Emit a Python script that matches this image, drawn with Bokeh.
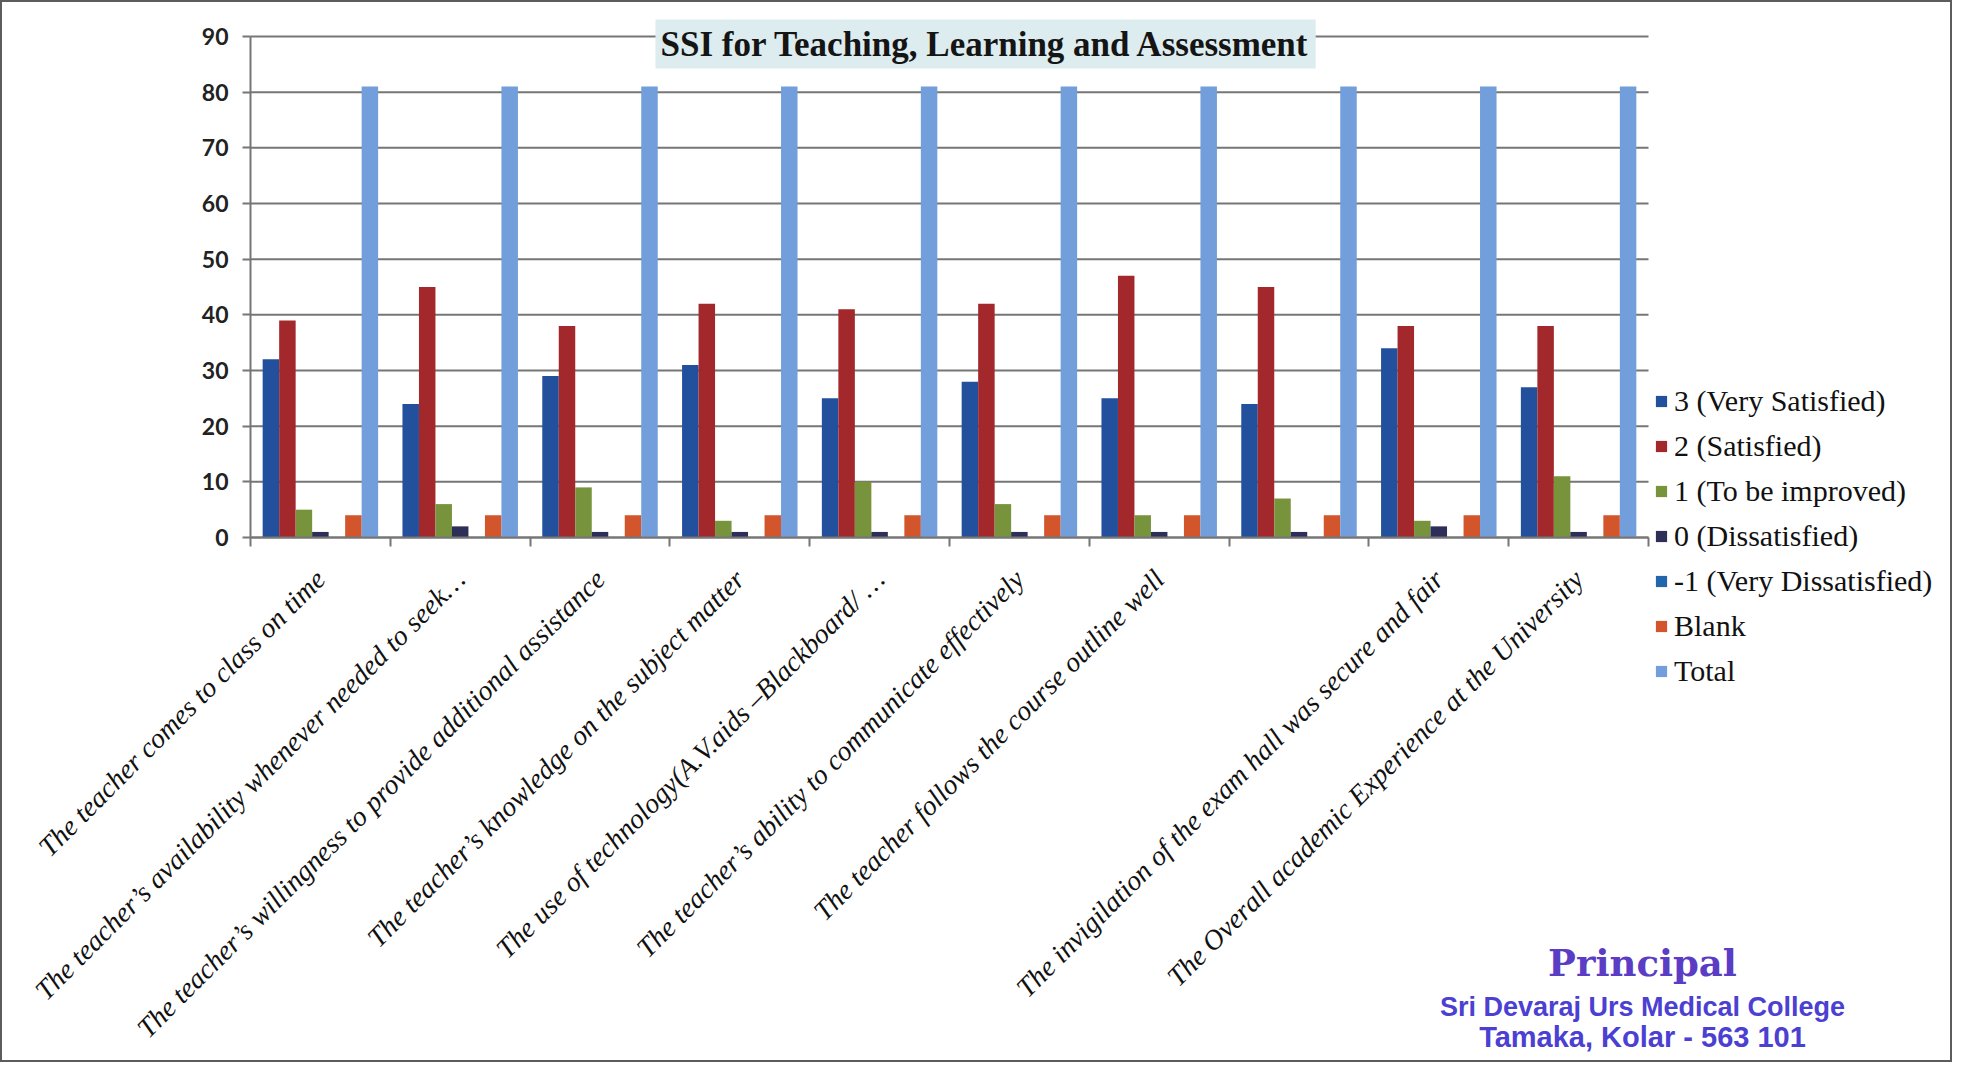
import numpy as np
from bokeh.plotting import figure
from bokeh.models import Range1d, FixedTicker, Legend, LegendItem, Label, ColumnDataSource
from bokeh.embed import file_html
from bokeh.resources import INLINE

# ---------------- data ----------------
# (the 8th group carries no label in the original chart)
categories = [
    "The teacher comes to class on time",
    "The teacher\u2019s availability whenever needed to seek\u2026",
    "The teacher\u2019s willingness to provide additional assistance",
    "The teacher\u2019s knowledge on the subject matter",
    "The use of technology(A.V.aids \u2013Blackboard/ \u2026",
    "The teacher\u2019s ability to communicate effectively",
    "The teacher follows the course outline well",
    "",
    "The invigilation of the exam hall was secure and fair",
    "The Overall academic Experience at the University",
]
series_names = ["3 (Very Satisfied)", "2 (Satisfied)", "1 (To be improved)",
                "0 (Dissatisfied)", "-1 (Very Dissatisfied)", "Blank", "Total"]
very_satisfied    = [32, 24, 29, 31, 25, 28, 25, 24, 34, 27]
satisfied         = [39, 45, 38, 42, 41, 42, 47, 45, 38, 38]
to_be_improved    = [5, 6, 9, 3, 10, 6, 4, 7, 3, 11]
dissatisfied      = [1, 2, 1, 1, 1, 1, 1, 1, 2, 1]
very_dissatisfied = [0, 0, 0, 0, 0, 0, 0, 0, 0, 0]
blank             = [4, 4, 4, 4, 4, 4, 4, 4, 4, 4]
total             = [81, 81, 81, 81, 81, 81, 81, 81, 81, 81]
y_ticks = [0, 10, 20, 30, 40, 50, 60, 70, 80, 90]
title_text = "SSI for Teaching, Learning and Assessment"
stamp_lines = ["Principal", "Sri Devaraj Urs Medical College", "Tamaka, Kolar - 563 101"]

series = [very_satisfied, satisfied, to_be_improved, dissatisfied,
          very_dissatisfied, blank, total]
colors = ["#22509c", "#a3282b", "#77933c", "#2d2f58", "#2366ab", "#d3552b", "#729edb"]

# ---------------- layout (pixels on the canvas) ----------------
W, H = 1952, 1062
N = len(categories)
Y_MAX = y_ticks[-1]
PLOT_L, PLOT_R = 248, 1646      # plot area left/right
PLOT_T, PLOT_B = 34, 535        # plot area top/bottom
px_x = (PLOT_R - PLOT_L) / N
px_y = (PLOT_B - PLOT_T) / Y_MAX

x_range = Range1d(-PLOT_L / px_x, (W - PLOT_L) / px_x)
y_range = Range1d((PLOT_B - H) / px_y, PLOT_B / px_y)

p = figure(width=W, height=H, x_range=x_range, y_range=y_range,
           output_backend="svg", toolbar_location=None)
p.min_border = 0
p.min_border_left = p.min_border_right = p.min_border_top = p.min_border_bottom = 0
p.styles = {"border": "2px solid #5c5c5c"}
p.outline_line_color = None
p.background_fill_color = "white"
p.border_fill_color = "white"
p.xgrid.visible = False
p.ygrid.visible = False

GRID = "#767676"
# horizontal gridlines limited to the plot area
p.segment(x0=[0] * len(y_ticks), x1=[N] * len(y_ticks), y0=y_ticks, y1=y_ticks,
          line_color=GRID, line_width=2, level="underlay")

# y axis fixed at x=0
ya = p.yaxis[0]
ya.fixed_location = 0
ya.bounds = (0, Y_MAX)
ya.ticker = FixedTicker(ticks=y_ticks)
ya.axis_line_color = GRID
ya.axis_line_width = 2
ya.major_tick_out = 8
ya.major_tick_in = 0
ya.major_tick_line_color = GRID
ya.major_tick_line_width = 2
ya.minor_tick_line_color = None
ya.major_label_text_font = "Lato"
ya.major_label_text_font_style = "bold"
ya.major_label_text_font_size = "23px"
ya.major_label_text_color = "#222222"
ya.major_label_standoff = 14

# x axis fixed at y=0
idx = np.arange(N)
centers = idx + 0.5
xa = p.xaxis[0]
xa.fixed_location = 0
xa.bounds = (0, N)
xa.ticker = FixedTicker(ticks=list(centers), minor_ticks=list(np.arange(N + 1)))
overrides = {}
for c, lab in zip(centers, categories):
    overrides[float(c)] = lab
    overrides["%.1f" % c] = lab
xa.major_label_overrides = overrides
xa.major_label_orientation = np.pi / 4
xa.major_label_text_font = "Liberation Serif"
xa.major_label_text_font_style = "italic"
xa.major_label_text_font_size = "28px"
xa.major_label_text_color = "#111111"
xa.major_label_standoff = 28
xa.axis_line_color = GRID
xa.axis_line_width = 2
xa.major_tick_out = 0
xa.major_tick_in = 0
xa.minor_tick_out = 9
xa.minor_tick_in = 0
xa.minor_tick_line_color = GRID
xa.minor_tick_line_width = 2

BAR_W = 0.118
renderers = []
for j, (vals, col) in enumerate(zip(series, colors)):
    src = ColumnDataSource(dict(x=centers + (j - 3) * BAR_W, top=vals))
    r = p.vbar(x="x", top="top", bottom=0, width=BAR_W, source=src,
               fill_color=col, line_color=None)
    renderers.append(r)

legend = Legend(items=[LegendItem(label=n, renderers=[r]) for n, r in zip(series_names, renderers)],
                location=(1652, H - 686), glyph_width=14, glyph_height=14, label_height=30,
                spacing=11, padding=0, margin=0, border_line_color=None,
                background_fill_alpha=0, label_standoff=6,
                label_text_font="Liberation Serif", label_text_font_size="30px",
                label_text_color="#111111")
p.add_layout(legend)

title = Label(x=5.258, y=88.65, text=title_text,
              text_font="Liberation Serif", text_font_style="bold", text_font_size="35px",
              text_color="#151515", text_align="center", text_baseline="middle",
              background_fill_color="#dcecef", padding=5)
p.add_layout(title)

stamp_style = [(-76.5, "DejaVu Serif", "37px", "#5b3cc4"),
               (-84.3, "Liberation Sans", "27px", "#4b40d2"),
               (-89.8, "Liberation Sans", "29px", "#4b40d2")]
for txt, (yy, font, size, colr) in zip(stamp_lines, stamp_style):
    p.add_layout(Label(x=9.957, y=yy, text=txt, text_font=font, text_font_style="bold",
                       text_font_size=size, text_color=colr, text_align="center",
                       text_baseline="middle"))

open("out.html", "w").write(file_html(p, INLINE))
